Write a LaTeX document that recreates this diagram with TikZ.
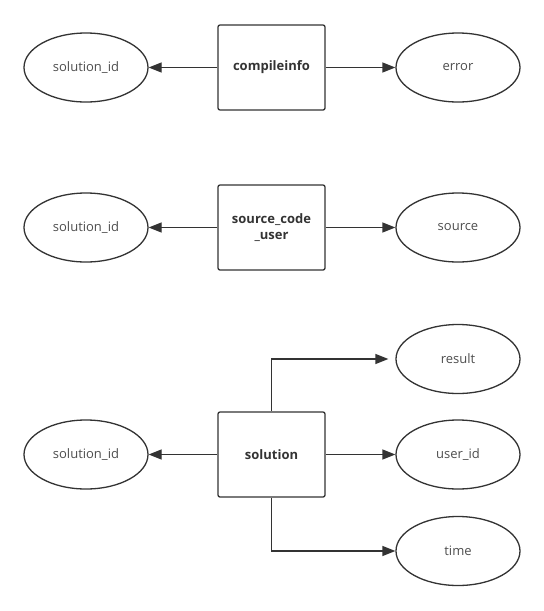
\documentclass[tikz,border=0pt]{standalone}
\usepackage{fontspec}
\setmainfont{Open Sans}
\usetikzlibrary{arrows.meta,shapes.geometric}
\definecolor{linegray}{HTML}{333333}
\definecolor{textgray}{HTML}{4D4D4D}
\tikzset{
  table/.style={draw=linegray,line width=1.3pt,rounded corners=2pt,minimum width=107pt,
    minimum height=85pt,inner sep=1pt,align=center,font=\fontsize{13}{16}\selectfont\bfseries,
    text=linegray},
  attr/.style={ellipse,draw=linegray,line width=1.3pt,minimum width=124pt,minimum height=69pt,
    inner sep=0pt,font=\fontsize{13}{16}\selectfont,text=textgray},
  link/.style={draw=linegray,line width=1.3pt,-{Triangle[length=13pt,width=10pt]}}
}
\begin{document}
\begin{tikzpicture}[x=1pt,y=-1pt]
  \useasboundingbox (0,0) rectangle (544,611);
  % compileinfo
  \node[table] (CI)     at (271.5,67.5) {compileinfo};
  \node[attr]  (CIsid)  at (86,67.5)    {solution\_id};
  \node[attr]  (CIerr)  at (458,67.5)   {error};
  \draw[link] (CI) -- (CIsid);
  \draw[link] (CI) -- (CIerr);
  % source_code_user
  \node[table] (SC)     at (271.5,227.5) {source\_code\\\_user};
  \node[attr]  (SCsid)  at (86,227.5)    {solution\_id};
  \node[attr]  (SCsrc)  at (458,227.5)   {source};
  \draw[link] (SC) -- (SCsid);
  \draw[link] (SC) -- (SCsrc);
  % solution
  \node[table] (S)      at (271.5,454.5) {solution};
  \node[attr]  (Ssid)   at (86,454.5)    {solution\_id};
  \node[attr]  (Sres)   at (458,359)     {result};
  \node[attr]  (Suid)   at (458,454.5)   {user\_id};
  \node[attr]  (Stime)  at (458,551)     {time};
  \draw[link] (S) -- (Ssid);
  \draw[link] (S) -- (Suid);
  \draw[link,shorten >=7pt] (S.north) |- (Sres.west);
  \draw[link] (S.south) |- (Stime.west);
\end{tikzpicture}
\end{document}
